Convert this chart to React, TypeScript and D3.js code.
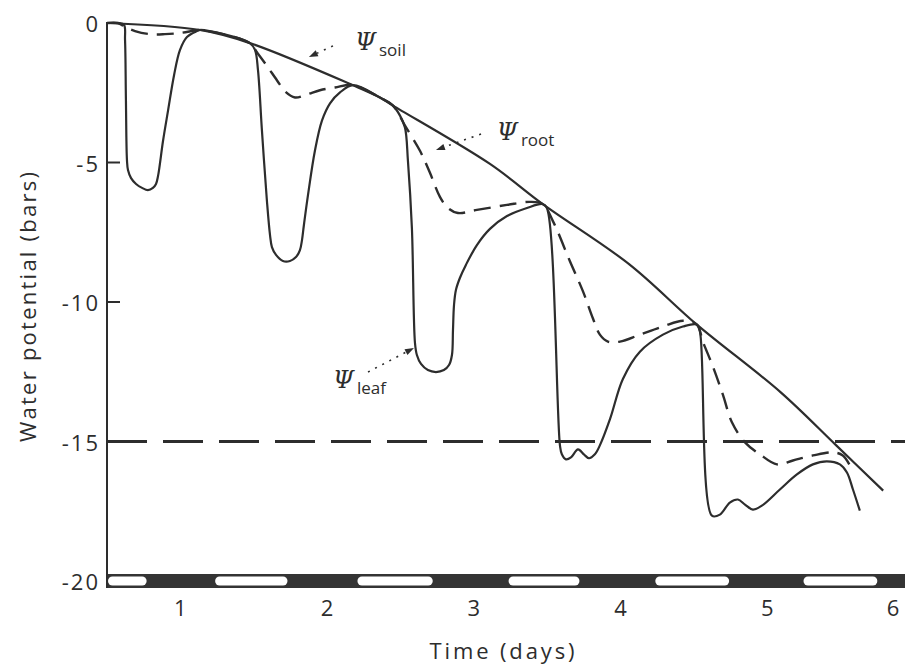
import * as d3 from 'd3';

// time (days) and water potential (bars)
const soilDays = [0.5, 1.134, 1.474, 2.176, 2.36, 2.449, 3.11, 3.47, 4.06, 4.52, 5.09, 5.47, 5.79];
const soilPsi = [0, -0.25, -0.72, -2.23, -2.67, -2.96, -5.05, -6.49, -8.65, -10.81, -13.23, -15.14, -16.76];

const leafDays = [
  0.5, 0.575, 0.616, 0.623, 0.629, 0.636, 0.643, 0.664, 0.698, 0.739, 0.779, 0.813, 0.834, 0.848, 0.882, 0.916, 0.957, 0.997, 1.045, 1.113, 1.134,
  1.474, 1.509, 1.529, 1.556, 1.59, 1.611, 1.624, 1.652, 1.699, 1.747, 1.788, 1.815, 1.829, 1.842, 1.87, 1.917, 1.965, 2.02, 2.088, 2.176, 2.36, 2.449,
  2.497, 2.531, 2.551, 2.578, 2.599, 2.612, 2.64, 2.687, 2.742, 2.796, 2.831, 2.851, 2.858, 2.865, 2.878, 2.905, 2.946, 3.021, 3.11, 3.226, 3.362, 3.47,
  3.498, 3.587, 3.6, 3.628, 3.662, 3.71, 3.75, 3.785, 3.825, 3.859, 3.928, 4.016, 4.132, 4.289, 4.425, 4.52,
  4.541, 4.623, 4.677, 4.745, 4.8, 4.848, 4.902, 4.963, 5.086, 5.202, 5.311, 5.406, 5.495, 5.543, 5.584, 5.631,
];
const leafPsi = [
  0, 0, -0.07, -0.61, -2.77, -4.91, -5.27, -5.56, -5.77, -5.91, -5.99, -5.91, -5.77, -5.48, -4.22, -3.14, -1.87, -0.97, -0.5, -0.29, -0.25,
  -0.72, -0.97, -1.69, -3.86, -6.38, -7.6, -8.03, -8.31, -8.53, -8.53, -8.39, -8.14, -7.78, -7.24, -6.16, -4.58, -3.5, -2.88, -2.49, -2.23, -2.67, -2.96,
  -3.32, -3.75, -4.94, -7.35, -11.47, -11.9, -12.22, -12.44, -12.51, -12.44, -12.26, -11.9, -11.0, -10.11, -9.57, -9.14, -8.67, -7.96, -7.38, -6.92, -6.63, -6.49,
  -6.63, -15.14, -15.46, -15.64, -15.57, -15.28, -15.46, -15.6, -15.46, -15.14, -14.2, -12.76, -11.78, -11.17, -10.88, -10.81,
  -11.06, -17.66, -17.62, -17.19, -17.08, -17.26, -17.44, -17.3, -16.72, -16.18, -15.82, -15.71, -15.82, -16.11, -16.72, -17.48,
];

const rootDays = [
  0.5, 0.575, 0.623, 0.691, 0.793, 0.895, 0.997, 1.1, 1.134,
  1.474, 1.522, 1.577, 1.658, 1.713, 1.781, 1.863, 1.951, 2.054, 2.176, 2.36, 2.449,
  2.531, 2.633, 2.701, 2.769, 2.824, 2.892, 3.021, 3.226, 3.383, 3.47,
  3.539, 3.655, 3.744, 3.812, 3.859, 3.914, 3.996, 4.132, 4.289, 4.425, 4.52,
  4.561, 4.63, 4.698, 4.759, 4.848, 4.95, 5.066, 5.175, 5.311, 5.447, 5.515, 5.563,
];
const rootPsi = [
  0, 0, -0.14, -0.29, -0.4, -0.4, -0.36, -0.27, -0.25,
  -0.72, -1.05, -1.44, -2.05, -2.45, -2.67, -2.56, -2.41, -2.31, -2.23, -2.67, -2.96,
  -3.68, -4.58, -5.37, -6.23, -6.63, -6.81, -6.7, -6.52, -6.41, -6.49,
  -7.1, -8.54, -9.62, -10.59, -11.17, -11.42, -11.42, -11.17, -10.88, -10.67, -10.81,
  -11.42, -12.32, -13.33, -14.31, -15.03, -15.46, -15.82, -15.68, -15.5, -15.39, -15.5, -15.86,
];

// light periods (days) shown in the bar under the plot
const lightStart = [0.23, 1.23, 2.2, 3.23, 4.23, 5.24];
const lightEnd = [0.77, 1.73, 2.72, 3.72, 4.74, 5.75];

const dayTicks = [1, 2, 3, 4, 5, 6];
const psiTicks = [0, -5, -10, -15, -20];
const innerTicks = [-5, -10];
const wiltingPsi = -15;

// curve labels: text position, leader start and arrow tip, in (days, bars)
const labelNames = ['soil', 'root', 'leaf'];
const labelAt = [[2.19, -0.97], [3.157, -4.19], [2.04, -13.08]];
const leaderFrom = [[2.04, -0.82], [3.049, -3.98], [2.279, -12.51]];
const leaderTo = [[1.876, -1.22], [2.742, -4.55], [2.592, -11.65]];

const ink = '#2d2d2d';
const font = '"Open Sans", "DejaVu Sans", sans-serif';

export default function App() {
  const width = 905;
  const height = 668;

  const x = d3.scaleLinear().domain([0.5, 6]).range([107, 914]);
  const y = d3.scaleLinear().domain([0, -20]).range([23, 581]);

  const line = d3.line<[number, number]>()
    .x(d => x(d[0]))
    .y(d => y(d[1]))
    .curve(d3.curveCatmullRom.alpha(0.5));

  const zip = (a: number[], b: number[]) => a.map((v, i) => [v, b[i]] as [number, number]);

  const bandY = y(-20);
  const axisX = x(0.5);

  const arrow = (i: number) => {
    const [fx, fy] = [x(leaderFrom[i][0]), y(leaderFrom[i][1])];
    const [tx, ty] = [x(leaderTo[i][0]), y(leaderTo[i][1])];
    const a = Math.atan2(ty - fy, tx - fx);
    const len = 9, w = 3.2;
    const bx = tx - len * Math.cos(a), by = ty - len * Math.sin(a);
    const p1 = [bx + w * Math.sin(a), by - w * Math.cos(a)];
    const p2 = [bx - w * Math.sin(a), by + w * Math.cos(a)];
    return {
      line: [fx, fy, bx, by],
      head: `M${tx},${ty}L${p1[0]},${p1[1]}L${p2[0]},${p2[1]}Z`,
    };
  };

  return (
    <svg width={width} height={height} style={{position: 'absolute', left: 0, top: 0, background: '#fff'}}>
      {/* day / night bar */}
      <rect x={axisX} y={bandY - 7} width={width - axisX} height={14} fill="#343434" />
      {lightStart.map((s, i) => {
        const x0 = x(Math.max(s, 0.5));
        const x1 = x(lightEnd[i]);
        return <rect key={i} x={x0 + 1} y={bandY - 4.5} width={x1 - x0 - 1} height={9} rx={4.5} fill="#fff" />;
      })}

      {/* y axis */}
      <line x1={axisX} x2={axisX} y1={22} y2={bandY + 7} stroke={ink} strokeWidth={2} />
      {innerTicks.map(t => (
        <line key={t} x1={axisX} x2={axisX + 13} y1={y(t)} y2={y(t)} stroke={ink} strokeWidth={2} />
      ))}
      {psiTicks.map(t => (
        <text key={t} x={100} y={y(t)} textAnchor="end" dominantBaseline="central"
          fontFamily={font} fontSize={22} fill={ink} letterSpacing={2}>
          {t === 0 ? '0' : `-${Math.abs(t)}`}
        </text>
      ))}
      <text transform={`translate(27,${y(-10) + 5}) rotate(-90)`} textAnchor="middle" dominantBaseline="central"
        fontFamily={font} fontSize={22} fill={ink} textLength={270} lengthAdjust="spacing">
        Water potential (bars)
      </text>

      {/* x axis labels */}
      {dayTicks.map(t => (
        <text key={t} x={Math.min(x(t), width - 12)} y={607} textAnchor="middle" dominantBaseline="central"
          fontFamily={font} fontSize={22} fill={ink}>
          {t}
        </text>
      ))}
      <text x={502} y={650} textAnchor="middle" dominantBaseline="central"
        fontFamily={font} fontSize={22} fill={ink} textLength={145} lengthAdjust="spacing">
        Time (days)
      </text>

      {/* wilting point */}
      <line x1={axisX} x2={width} y1={y(wiltingPsi)} y2={y(wiltingPsi)} stroke={ink} strokeWidth={3}
        strokeDasharray="40 16" />

      {/* curves */}
      <path d={line(zip(soilDays, soilPsi)) ?? ''} fill="none" stroke={ink} strokeWidth={2.2} />
      <path d={line(zip(leafDays, leafPsi)) ?? ''} fill="none" stroke={ink} strokeWidth={2.2} />
      <path d={line(zip(rootDays, rootPsi)) ?? ''} fill="none" stroke={ink} strokeWidth={2.4}
        strokeDasharray="17 9" />

      {/* labels */}
      {labelNames.map((name, i) => {
        const a = arrow(i);
        return (
          <g key={name}>
            <line x1={a.line[0]} y1={a.line[1]} x2={a.line[2]} y2={a.line[3]} stroke={ink} strokeWidth={1.6}
              strokeDasharray="2 6" />
            <path d={a.head} fill={ink} />
            <text x={x(labelAt[i][0])} y={y(labelAt[i][1])} fontFamily="'DejaVu Serif', serif" fontStyle="italic"
              fontSize={24} fill={ink}>
              Ψ
              <tspan fontFamily={font} fontStyle="normal" fontSize={17} dx={3} dy={6}>{name}</tspan>
            </text>
          </g>
        );
      })}
    </svg>
  );
}
